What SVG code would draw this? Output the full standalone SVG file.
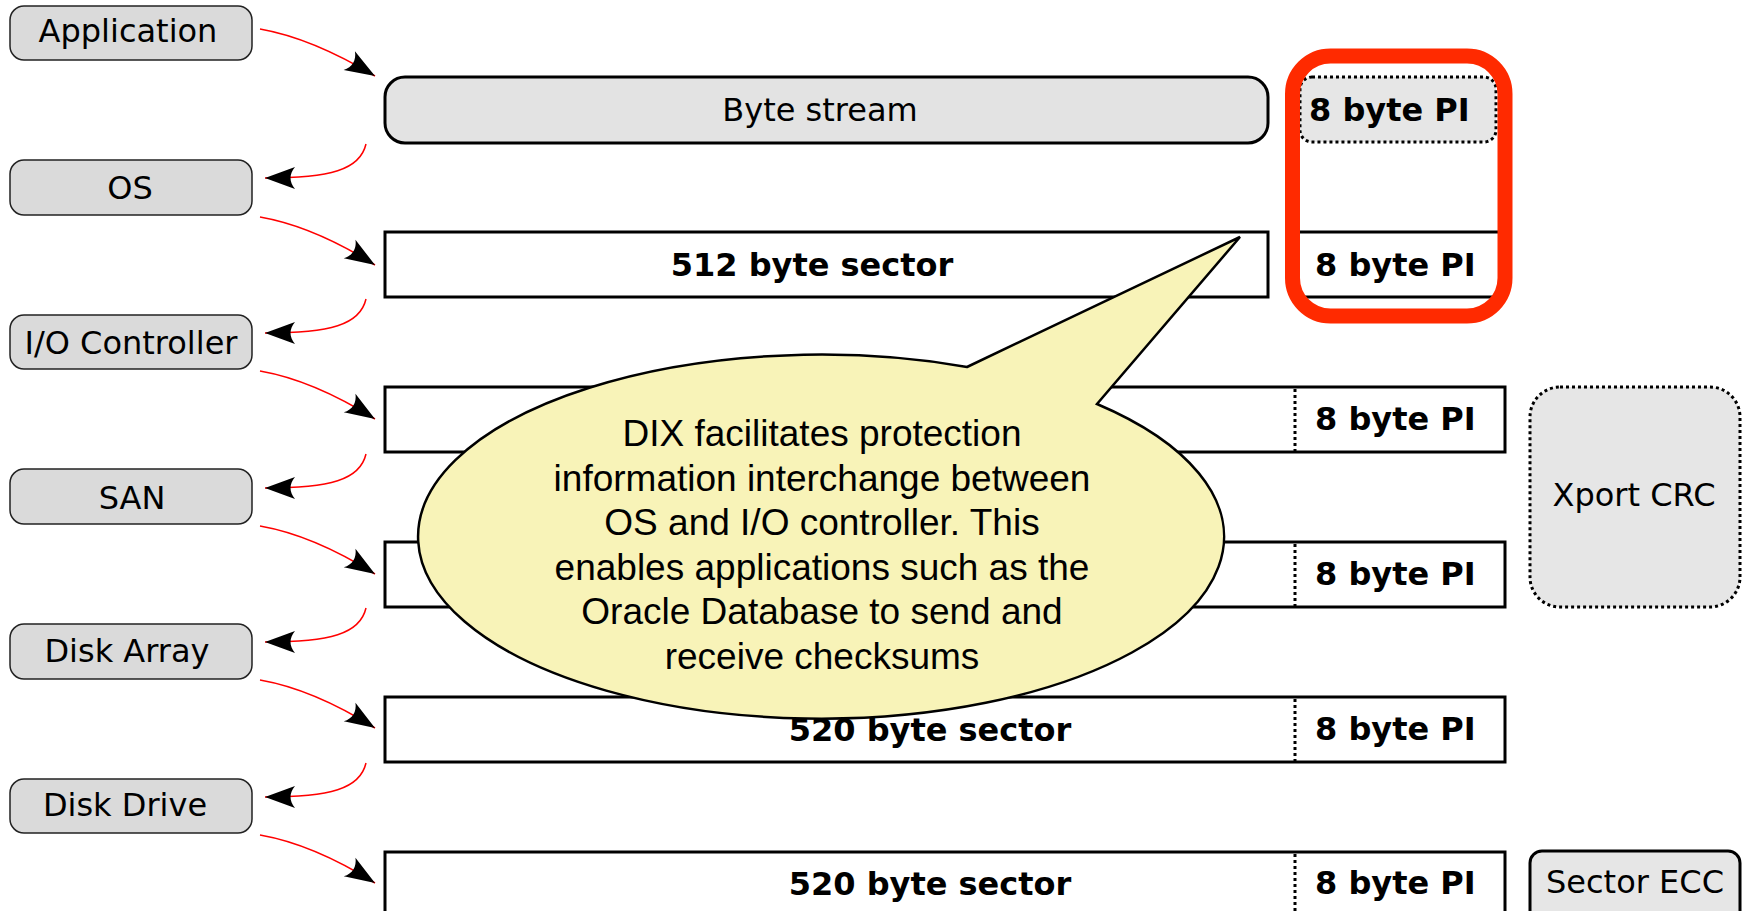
<svg xmlns="http://www.w3.org/2000/svg" width="1747" height="911" viewBox="0 0 1747 911">
<style>
.lbox{fill:#dadada;stroke:#222;stroke-width:1.5}
.ltxt{font-family:"DejaVu Sans",sans-serif;font-size:32px;fill:#000;text-anchor:middle}
.btxt{font-family:"DejaVu Sans",sans-serif;font-size:32px;font-weight:bold;fill:#000}
.bar{fill:#fff;stroke:#000;stroke-width:3}
.dot{stroke:#000;stroke-width:3;stroke-dasharray:3 3;fill:none}
.conn{fill:none;stroke:#ff0000;stroke-width:1.5}
.ctxt{font-family:"Liberation Sans",Arial,sans-serif;font-size:37px;fill:#000;text-anchor:middle}
</style>
<defs>
<marker id="arr" markerUnits="userSpaceOnUse" orient="auto" refX="0" refY="0" markerWidth="40" markerHeight="30" viewBox="-32 -15 34 30" overflow="visible">
<path d="M0,0 L-30,-11 C-24,-4 -24,4 -30,11 Z" fill="#000"/>
</marker>
</defs>
<rect width="1747" height="911" fill="#fff"/>

<g id="left-labels">
<g id="application"><rect class="lbox" x="10" y="6" width="242" height="54" rx="14"/><text class="ltxt" x="128" y="42">Application</text></g>
<g id="os"><rect class="lbox" x="10" y="160" width="242" height="55" rx="14"/><text class="ltxt" x="130" y="199">OS</text></g>
<g id="io-controller"><rect class="lbox" x="10" y="315" width="242" height="54" rx="14"/><text class="ltxt" x="131" y="354">I/O Controller</text></g>
<g id="san"><rect class="lbox" x="10" y="469" width="242" height="55" rx="14"/><text class="ltxt" x="132" y="509">SAN</text></g>
<g id="disk-array"><rect class="lbox" x="10" y="624" width="242" height="55" rx="14"/><text class="ltxt" x="127" y="662">Disk Array</text></g>
<g id="disk-drive"><rect class="lbox" x="10" y="779" width="242" height="54" rx="14"/><text class="ltxt" x="125" y="816">Disk Drive</text></g>
</g>

<g id="row1">
<rect x="385" y="77" width="883" height="66" rx="20" fill="#e3e3e3" stroke="#000" stroke-width="3"/>
<text class="ltxt" x="820" y="121">Byte stream</text>
<rect class="dot" x="1300" y="77" width="196" height="65" rx="12" style="fill:#e6e6e6"/>
<text class="btxt" x="1309" y="121">8 byte PI</text>
</g>

<g id="row2">
<rect class="bar" x="385" y="232" width="883" height="65"/>
<text class="btxt" x="812" y="276" text-anchor="middle">512 byte sector</text>
<line x1="1290" y1="232" x2="1505" y2="232" stroke="#000" stroke-width="3"/>
<line x1="1290" y1="297" x2="1505" y2="297" stroke="#000" stroke-width="3"/>
<text class="btxt" x="1315" y="276">8 byte PI</text>
</g>

<g id="pi-highlight">
<rect x="1292.5" y="56" width="212.5" height="260" rx="38" fill="none" stroke="#ff2a00" stroke-width="15"/>
</g>

<g id="row3">
<rect class="bar" x="385" y="387" width="1120" height="65"/>
<line class="dot" x1="1295" y1="389" x2="1295" y2="452"/>
<text class="btxt" x="1315" y="430">8 byte PI</text>
</g>
<g id="row4">
<rect class="bar" x="385" y="542" width="1120" height="65"/>
<line class="dot" x1="1295" y1="544" x2="1295" y2="607"/>
<text class="btxt" x="1315" y="585">8 byte PI</text>
</g>
<g id="row5">
<rect class="bar" x="385" y="697" width="1120" height="65"/>
<line class="dot" x1="1295" y1="699" x2="1295" y2="762"/>
<text class="btxt" x="930" y="741" text-anchor="middle">520 byte sector</text>
<text class="btxt" x="1315" y="740">8 byte PI</text>
</g>
<g id="row6">
<rect class="bar" x="385" y="852" width="1120" height="70"/>
<line class="dot" x1="1295" y1="854" x2="1295" y2="922"/>
<text class="btxt" x="930" y="895" text-anchor="middle">520 byte sector</text>
<text class="btxt" x="1315" y="894">8 byte PI</text>
</g>

<g id="xport-crc">
<rect class="dot" x="1530" y="387" width="210" height="220" rx="30" style="fill:#e6e6e6"/>
<text class="ltxt" x="1634" y="506">Xport CRC</text>
</g>
<g id="sector-ecc">
<rect x="1530" y="851" width="210" height="80" rx="12" fill="#e6e6e6" stroke="#000" stroke-width="3"/>
<text class="ltxt" x="1635" y="893">Sector ECC</text>
</g>

<g id="connectors">
<path class="conn" marker-end="url(#arr)" d="M260,29 C300,36 340,55 375,76"/>
<path class="conn" marker-end="url(#arr)" d="M366,144 C360,170 330,178 265,178"/>
<path class="conn" marker-end="url(#arr)" d="M260,217 C300,224 340,243 375,265"/>
<path class="conn" marker-end="url(#arr)" d="M366,299 C360,325 330,333 265,333"/>
<path class="conn" marker-end="url(#arr)" d="M260,371 C300,378 340,397 375,419"/>
<path class="conn" marker-end="url(#arr)" d="M366,454 C360,480 330,488 265,488"/>
<path class="conn" marker-end="url(#arr)" d="M260,526 C300,533 340,552 375,574"/>
<path class="conn" marker-end="url(#arr)" d="M366,608 C360,634 330,642 265,642"/>
<path class="conn" marker-end="url(#arr)" d="M260,680 C300,687 340,706 375,728"/>
<path class="conn" marker-end="url(#arr)" d="M366,763 C360,789 330,797 265,797"/>
<path class="conn" marker-end="url(#arr)" d="M260,835 C300,842 340,861 375,883"/>
</g>

<g id="callout">
<path d="M967,367 L1240,237 L1097,404 A403,182 0 1 1 967,367 Z" fill="#f8f3b8" stroke="#000" stroke-width="2.5" stroke-linejoin="miter"/>
<text class="ctxt" x="822" y="446">DIX facilitates protection</text>
<text class="ctxt" x="822" y="490.6">information interchange between</text>
<text class="ctxt" x="822" y="535">OS and I/O controller. This</text>
<text class="ctxt" x="822" y="579.8">enables applications such as the</text>
<text class="ctxt" x="822" y="624.4">Oracle Database to send and</text>
<text class="ctxt" x="822" y="669">receive checksums</text>
</g>
</svg>
